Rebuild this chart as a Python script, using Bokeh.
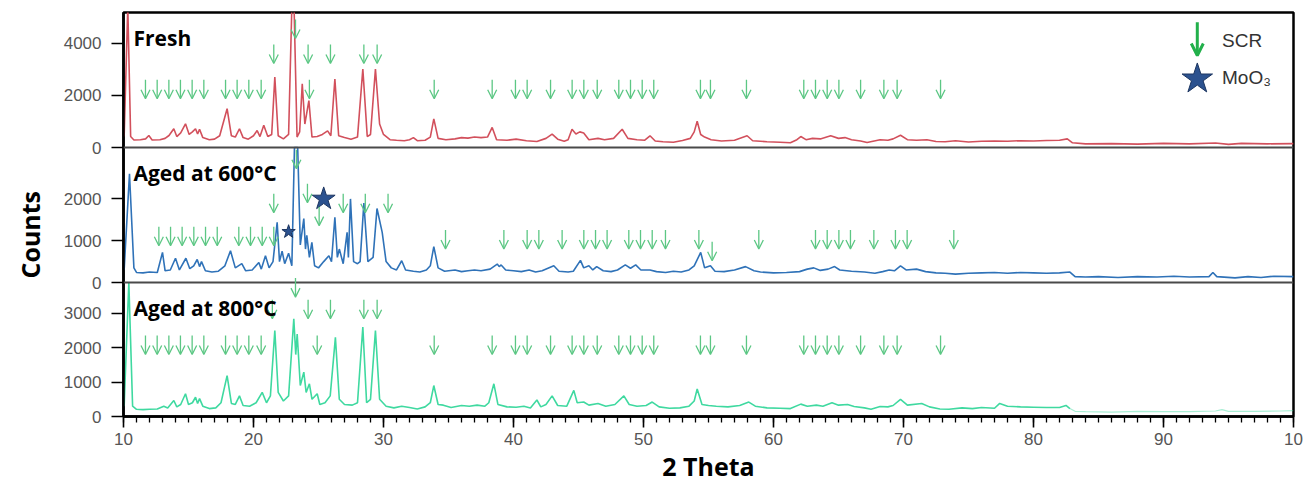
import math
from bokeh.plotting import figure
from bokeh.models import (Range1d, FixedTicker, SingleIntervalTicker, Arrow, OpenHead,
                          Label, Span, ColumnDataSource, Title)
from bokeh.embed import file_html
from bokeh.resources import INLINE

# ---------------- data ----------------
fresh_2theta = [10.05, 10.33, 10.55, 10.8, 11.3, 11.7, 11.95, 12.2, 12.8, 13.2, 13.5, 13.87, 14.1, 14.4, 14.77,
                15.05, 15.3, 15.54, 15.7, 15.85, 16.1, 16.6, 17.0, 17.4, 17.97, 18.3, 18.6, 18.92, 19.2, 19.6,
                20.0, 20.28, 20.5, 20.79, 21.1, 21.4, 21.64, 21.9, 22.3, 22.7, 22.95, 23.12, 23.35, 23.55, 23.75,
                23.95, 24.26, 24.5, 24.9, 25.3, 25.7, 25.95, 26.26, 26.55, 27.0, 27.5, 28.0, 28.41, 28.75, 29.0,
                29.38, 29.7, 30.0, 30.5, 31.0, 31.6, 32.0, 32.3, 32.6, 33.2, 33.6, 33.87, 34.2, 34.8, 35.5,
                36.0, 36.5, 37.0, 37.5, 38.0, 38.36, 38.7, 39.5, 40.2, 41.0, 41.8, 42.5, 42.97, 43.4, 43.9,
                44.2, 44.5, 44.8, 45.1, 45.4, 45.8, 46.5, 47.0, 47.7, 48.36, 48.8, 49.5, 50.1, 50.5, 50.9,
                51.5, 52.3, 53.0, 53.6, 53.9, 54.13, 54.4, 54.7, 55.2, 56.0, 57.0, 57.97, 58.4, 59.5, 60.5,
                61.3, 61.8, 62.1, 62.5, 63.0, 63.6, 64.4, 65.0, 65.5, 66.0, 66.7, 67.2, 68.2, 68.8, 69.2,
                69.77, 70.3, 71.0, 71.8, 72.5, 73.2, 74.0, 75.0, 76.0, 77.0, 78.0, 79.0, 80.0, 81.0, 82.0,
                82.6, 83.0, 84.0, 86.0, 88.0, 90.0, 92.0, 94.0, 95.0, 96.0, 98.0, 100.0]
fresh_counts = [420, 5400, 420, 290, 300, 330, 460, 290, 300, 350, 460, 720, 420, 560, 910,
                500, 600, 720, 520, 700, 380, 300, 320, 450, 1490, 450, 400, 720, 380, 320,
                450, 650, 420, 850, 420, 500, 2700, 450, 330, 500, 5400, 5400, 400, 600, 2440,
                900, 1800, 400, 420, 500, 640, 450, 2630, 450, 380, 320, 400, 3010, 420, 500,
                3010, 900, 500, 300, 280, 260, 300, 380, 260, 280, 400, 1100, 350, 300, 330,
                380, 360, 400, 380, 400, 770, 300, 280, 320, 260, 230, 350, 510, 320, 240,
                300, 700, 520, 600, 560, 300, 350, 300, 350, 700, 350, 300, 280, 450, 250,
                220, 200, 270, 350, 600, 1010, 500, 400, 300, 250, 280, 450, 260, 220, 200,
                180, 300, 420, 300, 350, 330, 450, 350, 380, 300, 250, 190, 300, 280, 330,
                470, 300, 280, 300, 230, 220, 260, 210, 240, 250, 240, 260, 250, 270, 280,
                330, 180, 140, 150, 130, 160, 140, 170, 120, 160, 140, 150]

aged600_2theta = [10.05, 10.46, 10.8, 11.0, 11.5, 12.0, 12.6, 13.0, 13.2, 13.6, 14.0, 14.3, 14.8, 15.1, 15.4,
                  15.67, 15.85, 16.0, 16.3, 16.8, 17.3, 17.8, 18.23, 18.6, 19.1, 19.4, 19.9, 20.41, 20.6, 20.92,
                  21.2, 21.5, 21.82, 22.0, 22.2, 22.4, 22.7, 22.95, 23.15, 23.4, 23.6, 23.87, 24.0, 24.1, 24.3,
                  24.49, 24.7, 25.0, 25.4, 25.8, 26.0, 26.26, 26.45, 26.6, 26.9, 27.2, 27.3, 27.46, 27.7, 28.0,
                  28.2, 28.49, 28.8, 29.2, 29.5, 29.9, 30.2, 30.6, 31.0, 31.4, 31.7, 32.3, 32.8, 33.3, 33.6,
                  33.87, 34.2, 34.7, 35.5, 36.0, 36.5, 37.0, 37.5, 38.2, 38.75, 38.9, 39.05, 39.4, 40.0, 40.6,
                  41.2, 41.7, 42.2, 43.1, 43.5, 44.2, 44.6, 45.15, 45.4, 45.8, 46.1, 46.4, 46.9, 47.5, 48.0,
                  48.6, 49.0, 49.4, 49.8, 50.5, 51.0, 51.7, 52.3, 52.9, 53.5, 53.9, 54.4, 54.7, 55.15, 55.5,
                  56.2, 57.0, 57.85, 58.5, 59.0, 60.0, 61.0, 62.0, 62.6, 63.1, 63.6, 64.2, 64.7, 65.1, 66.0,
                  67.0, 67.8, 68.4, 68.9, 69.3, 69.77, 70.2, 71.0, 71.7, 72.5, 73.2, 74.0, 75.0, 76.0, 77.0,
                  78.0, 79.0, 80.0, 81.0, 82.0, 82.8, 83.2, 84.0, 85.0, 86.5, 88.0, 89.5, 90.8, 92.0, 93.5,
                  93.8, 94.1, 95.5, 96.5, 97.5, 98.5, 100.0]
aged600_counts = [300, 2600, 350, 240, 230, 250, 240, 720, 280, 300, 580, 300, 580, 330, 400,
                  550, 380, 500, 280, 250, 270, 400, 760, 350, 450, 280, 300, 480, 320, 640,
                  350, 500, 1440, 500, 750, 450, 700, 400, 3230, 3230, 900, 1530, 800, 1130, 600,
                  960, 400, 350, 500, 640, 500, 1560, 600, 800, 450, 1200, 600, 2000, 500, 450,
                  500, 1900, 500, 600, 1770, 1200, 500, 350, 300, 520, 300, 270, 250, 300, 400,
                  860, 350, 270, 300, 260, 280, 300, 280, 320, 440, 380, 420, 300, 280, 260,
                  300, 250, 280, 400, 270, 250, 270, 530, 350, 400, 300, 380, 280, 260, 300,
                  420, 340, 420, 300, 300, 260, 240, 270, 250, 300, 400, 720, 350, 400, 270,
                  260, 300, 380, 280, 250, 230, 240, 260, 320, 350, 290, 320, 380, 300, 270,
                  250, 220, 260, 300, 280, 400, 300, 320, 260, 230, 220, 200, 220, 230, 240,
                  220, 240, 230, 220, 230, 250, 140, 130, 140, 120, 140, 130, 150, 130, 140,
                  240, 140, 110, 140, 120, 150, 140]

aged800_2theta = [10.05, 10.41, 10.7, 11.0, 11.5, 12.0, 12.6, 13.1, 13.4, 13.87, 14.1, 14.4, 14.77, 15.0, 15.3,
                  15.54, 15.7, 15.85, 16.1, 16.6, 17.1, 17.5, 17.97, 18.3, 18.6, 18.92, 19.2, 19.7, 20.2, 20.67,
                  21.0, 21.3, 21.64, 21.9, 22.3, 22.7, 23.1, 23.25, 23.36, 23.6, 23.87, 24.05, 24.3, 24.5, 24.9,
                  25.1, 25.5, 25.9, 26.3, 26.6, 27.0, 27.6, 28.0, 28.41, 28.7, 29.0, 29.38, 29.7, 30.2, 30.8,
                  31.4, 32.0, 32.6, 33.2, 33.6, 33.87, 34.2, 34.6, 35.2, 36.0, 36.6, 37.2, 37.8, 38.1, 38.49,
                  38.8, 39.5, 40.2, 40.8, 41.3, 41.8, 42.1, 42.5, 42.97, 43.4, 44.1, 44.64, 44.9, 45.4, 45.8,
                  46.5, 47.1, 47.8, 48.49, 48.9, 49.5, 50.2, 50.67, 51.2, 52.0, 52.8, 53.5, 53.9, 54.13, 54.5,
                  55.0, 55.6, 56.5, 57.4, 58.1, 58.6, 59.5, 60.5, 61.3, 62.1, 62.6, 63.3, 63.8, 64.5, 65.0,
                  65.7, 66.2, 67.0, 67.5, 68.2, 68.8, 69.2, 69.77, 70.3, 71.4, 72.0, 72.8, 73.5, 74.5, 75.3,
                  76.0, 77.0, 77.4, 78.0, 79.0, 80.0, 81.0, 82.0, 82.5, 82.8]
aged800_counts = [300, 3895, 300, 210, 200, 210, 220, 300, 250, 465, 280, 350, 660, 350, 400,
                  560, 380, 520, 300, 230, 250, 400, 1190, 380, 350, 600, 320, 300, 400, 700,
                  400, 600, 2500, 700, 450, 600, 2840, 1800, 2400, 900, 1290, 700, 950, 500, 660,
                  350, 400, 600, 2300, 500, 350, 330, 400, 2600, 400, 500, 2500, 500, 300, 250,
                  300, 260, 220, 280, 400, 900, 350, 330, 260, 320, 300, 330, 300, 400, 950,
                  350, 280, 270, 300, 250, 480, 280, 350, 600, 320, 300, 760, 400, 420, 330,
                  380, 300, 350, 600, 350, 300, 320, 420, 280, 240, 250, 300, 450, 800, 350,
                  320, 300, 280, 320, 420, 300, 250, 240, 230, 360, 300, 330, 300, 400, 330,
                  350, 290, 250, 210, 290, 280, 320, 500, 330, 380, 280, 220, 210, 250, 230,
                  260, 240, 380, 300, 280, 270, 260, 260, 320, 230]
aged800_tail_2theta = [82.8, 83.2, 84.0, 86.0, 88.0, 90.0, 92.0, 94.0, 94.5, 95.0, 97.0, 99.0, 100.0]
aged800_tail_counts = [230, 150, 140, 130, 150, 140, 140, 160, 200, 150, 150, 160, 170]

# SCR reference reflections (arrow x position, arrow tip height)
fresh_scr_2theta = [11.69, 12.59, 13.49, 14.38, 15.28, 16.18, 17.85, 18.74, 19.64, 20.59, 24.3, 33.9,
                    38.36, 40.15, 41.05, 42.85, 44.51, 45.41, 46.44, 48.1, 49.0, 49.9, 50.79, 54.38,
                    55.15, 57.92, 62.33, 63.23, 64.13, 65.03, 66.7, 68.49, 69.51, 72.85,
                    21.56, 24.2, 25.92, 28.49, 29.51, 23.23]
fresh_scr_tip = [1870, 1870, 1870, 1870, 1870, 1870, 1870, 1870, 1870, 1870, 1870, 1870,
                 1870, 1870, 1870, 1870, 1870, 1870, 1870, 1870, 1870, 1870, 1870, 1870,
                 1870, 1870, 1870, 1870, 1870, 1870, 1870, 1870, 1870, 1870,
                 3220, 3220, 3220, 3220, 3220, 4180]

aged600_scr_2theta = [12.72, 13.62, 14.51, 15.41, 16.31, 17.21, 18.87, 19.77, 20.67, 21.56,
                      34.77, 39.26, 41.05, 41.95, 43.74, 45.41, 46.31, 47.2, 48.87, 49.77, 50.67,
                      51.69, 54.26, 58.87, 63.23, 64.13, 65.03, 65.92, 67.72, 69.38, 70.28, 73.87,
                      55.28, 21.56, 26.9, 28.6, 30.35, 24.15, 25.05, 23.3]
aged600_scr_tip = [880, 880, 880, 880, 880, 880, 880, 880, 880, 880,
                   800, 800, 800, 800, 800, 800, 800, 800, 800, 800, 800,
                   800, 800, 800, 800, 800, 800, 800, 800, 800, 800, 800,
                   520, 1670, 1670, 1670, 1670, 1910, 1360, 2720]

aged800_scr_2theta = [11.69, 12.59, 13.49, 14.38, 15.28, 16.18, 17.85, 18.74, 19.64, 20.59, 24.9, 33.9,
                      38.36, 40.15, 41.05, 42.85, 44.51, 45.41, 46.44, 48.1, 49.0, 49.9, 50.79, 54.38,
                      55.15, 57.92, 62.33, 63.23, 64.13, 65.03, 66.7, 68.49, 69.51, 72.85,
                      21.45, 24.2, 25.92, 28.49, 29.51, 23.23]
aged800_scr_tip = [1800, 1800, 1800, 1800, 1800, 1800, 1800, 1800, 1800, 1800, 1800, 1800,
                   1800, 1800, 1800, 1800, 1800, 1800, 1800, 1800, 1800, 1800, 1800, 1800,
                   1800, 1800, 1800, 1800, 1800, 1800, 1800, 1800, 1800, 1800,
                   2840, 2840, 2840, 2840, 2840, 3470]

# MoO3 reflections marked in the 600 °C pattern
moo3_2theta = [22.7, 25.4]
moo3_counts = [1215, 2000]

panel_keys = ["fresh", "a600", "a800"]
panel_titles = ["Fresh", "Aged at 600°C", "Aged at 800°C"]
panel_ymax = [5180, 3230, 3895]
panel_yticks = [[0, 2000, 4000], [0, 1000, 2000], [0, 1000, 2000, 3000]]
x_tick_labels = {100: "10"}

# ---------------- layout / style ----------------
FRAME_H = 404
panel_h = [135, 135, 134]
panel_bottom = [269, 134, 0]
line_colors = ["#d2505c", "#2f72b8", "#3fd9a0"]
scr_color = "#5cc784"
tick_font = "'Liberation Sans Narrow', 'Liberation Sans', sans-serif"

p = figure(width=1307, height=486, x_range=Range1d(10, 100), y_range=Range1d(0, FRAME_H),
           output_backend="svg", toolbar_location=None,
           min_border_left=123, min_border_right=14, min_border_top=12, min_border_bottom=70)
p.grid.visible = False
p.outline_line_color = "black"
p.outline_line_width = 2.5
p.background_fill_color = "white"
p.border_fill_color = "white"

p.extra_y_ranges = {
    k: Range1d(-b / h * M, (FRAME_H - b) / h * M)
    for k, M, h, b in zip(panel_keys, panel_ymax, panel_h, panel_bottom)
}

# left axis: one axis, ticks placed per panel
yt, ylab = [], {}
for ticks, M, h, b in zip(panel_yticks, panel_ymax, panel_h, panel_bottom):
    for v in ticks:
        pos = b + v * h / M
        yt.append(pos)
        ylab[pos] = str(v)
yax = p.yaxis[0]
yax.ticker = FixedTicker(ticks=yt)
yax.major_label_overrides = ylab
yax.minor_tick_line_color = None
yax.major_label_standoff = 10

xax = p.xaxis[0]
xax.ticker = SingleIntervalTicker(interval=10, num_minor_ticks=10)
xax.major_label_overrides = x_tick_labels
xax.minor_tick_in = 0
xax.minor_tick_out = 6
xax.minor_tick_line_width = 1.3
xax.minor_tick_line_color = "black"
xax.major_label_standoff = 5
xax.axis_label = "2 Theta"
xax.axis_label_standoff = 1
xax.axis_label_text_font = "Open Sans"
xax.axis_label_text_font_style = "bold"
xax.axis_label_text_font_size = "25px"
xax.axis_label_text_color = "black"

for ax, tick_out in ((xax, 11), (yax, 12)):
    ax.axis_line_color = "black"
    ax.axis_line_width = 2.5
    ax.major_tick_in = 0
    ax.major_tick_out = tick_out
    ax.major_tick_line_width = 1.6
    ax.major_tick_line_color = "black"
    ax.major_label_text_font = tick_font
    ax.major_label_text_font_size = "17px"
    ax.major_label_text_color = "#555555"

# y title
p.add_layout(Title(text="Counts", align="left", offset=138, standoff=24, vertical_align="top",
                   text_font="Open Sans", text_font_style="bold", text_font_size="25px",
                   text_color="black"), "left")

# panel separators
for b in panel_bottom[:2]:
    p.add_layout(Span(location=b, dimension="width", line_color="#4a4a4a", line_width=2))

# patterns
p.line(fresh_2theta, fresh_counts, y_range_name="fresh", line_color=line_colors[0], line_width=1.6)
p.line(aged600_2theta, aged600_counts, y_range_name="a600", line_color=line_colors[1], line_width=1.6)
p.line(aged800_2theta, aged800_counts, y_range_name="a800", line_color=line_colors[2], line_width=1.6)
p.line(aged800_tail_2theta, aged800_tail_counts, y_range_name="a800", line_color=line_colors[2],
       line_width=1.2, line_alpha=0.45)

# SCR arrows
ARROW_PX = 19
for key, xs, tips, M, h in zip(panel_keys,
                               [fresh_scr_2theta, aged600_scr_2theta, aged800_scr_2theta],
                               [fresh_scr_tip, aged600_scr_tip, aged800_scr_tip],
                               panel_ymax, panel_h):
    L = ARROW_PX * M / h
    src = ColumnDataSource(dict(x=xs, y1=tips, y0=[t + L for t in tips]))
    p.add_layout(Arrow(x_start="x", y_start="y0", x_end="x", y_end="y1", source=src,
                       y_range_name=key, line_color=scr_color, line_width=1.3,
                       end=OpenHead(size=9, line_color=scr_color, line_width=1.3)))

# MoO3 stars
p.scatter(moo3_2theta, moo3_counts, y_range_name="a600", marker="star", size=[14, 24],
          fill_color="#2c528f", line_color="#1c3560", line_width=1)

# panel titles
for key, title, M, h in zip(panel_keys, panel_titles, panel_ymax, panel_h):
    p.add_layout(Label(x=10.77, y=M - 25 * M / h, y_range_name=key, text=title,
                       text_font="Open Sans", text_font_style="bold", text_font_size="21px",
                       text_color="black", text_baseline="alphabetic"))

# legend (drawn in top panel)
p.add_layout(Arrow(x_start=92.6, y_start=4810, x_end=92.6, y_end=3530, y_range_name="fresh",
                   line_color="#22b04b", line_width=3,
                   end=OpenHead(size=12, line_color="#22b04b", line_width=3)))
p.scatter([92.6], [2630], y_range_name="fresh", marker="star", size=32,
          fill_color="#2c528f", line_color="#1c3560", line_width=1)
p.add_layout(Label(x=94.5, y=4100, y_range_name="fresh", text="SCR", text_font="Liberation Sans",
                   text_font_size="19px", text_color="#333333", text_baseline="middle"))
p.add_layout(Label(x=94.5, y=2700, y_range_name="fresh", text="MoO₃", text_font="Liberation Sans",
                   text_font_size="19px", text_color="#333333", text_baseline="middle"))

open("out.html", "w").write(file_html(p, INLINE))
